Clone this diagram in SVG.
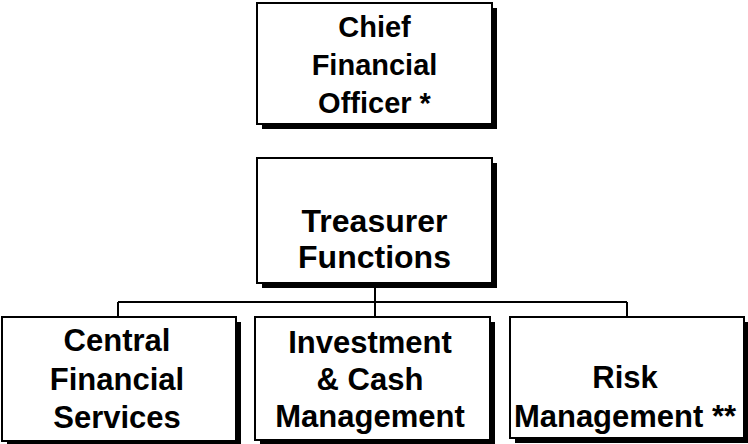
<svg xmlns="http://www.w3.org/2000/svg" width="748" height="444" viewBox="0 0 748 444">
<style>
.sh{fill:#000}
.bx{fill:#fff;stroke:#000;stroke-width:2}
.t{font-family:"Liberation Sans",Arial,sans-serif;font-weight:bold;font-size:31px;fill:#000;text-anchor:middle}
.c{fill:none;stroke:#000;stroke-width:2}
</style>
<rect width="748" height="444" fill="#fff"/>
<g id="connectors">
<path class="c" d="M375 283V302M118 302H627M118 302V317M375 302V317M627 302V317"/>
</g>
<g id="cfo">
<rect class="sh" x="262" y="8" width="235" height="121"/>
<rect class="bx" x="257" y="3" width="235" height="121"/>
<text class="t" x="374.5" y="37" style="font-size:29px">Chief</text>
<text class="t" x="374.5" y="75" style="font-size:29px">Financial</text>
<text class="t" x="374.5" y="113" style="font-size:29px">Officer *</text>
</g>
<g id="treasurer">
<rect class="sh" x="262" y="163" width="235" height="125"/>
<rect class="bx" x="257" y="158" width="235" height="125"/>
<text class="t" x="374.5" y="232" style="font-size:32px">Treasurer</text>
<text class="t" x="374.5" y="268" style="font-size:32px">Functions</text>
</g>
<g id="central">
<rect class="sh" x="7" y="322" width="234" height="124"/>
<rect class="bx" x="2" y="317" width="234" height="124"/>
<text class="t" x="117" y="351">Central</text>
<text class="t" x="117" y="390">Financial</text>
<text class="t" x="117" y="428">Services</text>
</g>
<g id="investment">
<rect class="sh" x="260" y="322" width="235" height="123"/>
<rect class="bx" x="255" y="317" width="235" height="123"/>
<text class="t" x="370" y="353">Investment</text>
<text class="t" x="370" y="390">&amp; Cash</text>
<text class="t" x="370" y="427">Management</text>
</g>
<g id="risk">
<rect class="sh" x="515" y="322" width="234" height="121"/>
<rect class="bx" x="510" y="317" width="234" height="121"/>
<text class="t" x="625" y="388">Risk</text>
<text class="t" x="625" y="427">Management **</text>
</g>
</svg>
